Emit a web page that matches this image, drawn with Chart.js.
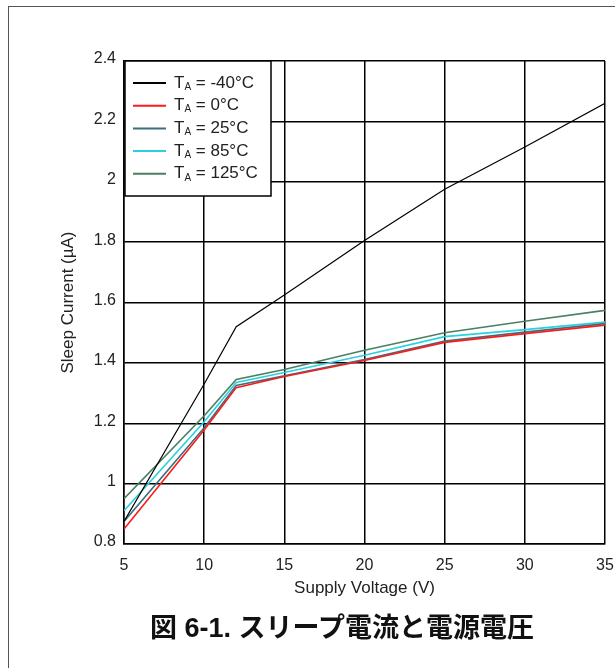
<!DOCTYPE html>
<html>
<head>
<meta charset="utf-8">
<script src="https://cdn.jsdelivr.net/npm/chart.js@4.4.1/dist/chart.umd.min.js"></script>
<style>
    html, body { margin: 0; padding: 0; background: #fff; overflow: hidden; }
    #wrap { position: relative; width: 615px; height: 668px; overflow: hidden; }
    #frame { position: absolute; left: 8px; top: 6px; width: 700px; height: 720px; border: 1px solid #555; }
    #myChart { position: absolute; left: 0; top: 0; }
    #caption {
        position: absolute; left: 8px; width: 668px; top: 610px;
        text-align: center; font: bold 27px "Liberation Sans", "Noto Sans CJK JP", sans-serif;
        line-height: 36px; color: #111;
    }
</style>
</head>
<body>
<div id="wrap">
    <div id="frame"></div>
    <canvas id="myChart" width="615" height="668"></canvas>
    <div id="caption">図 6-1. スリープ電流と電源電圧</div>
</div>
<script>
const voltages = [5, 10, 12, 15, 20, 25, 30, 35];
const temps = ['-40', '0', '25', '85', '125'];
const currentM40 = [0.875, 1.33, 1.52, 1.625, 1.805, 1.975, 2.115, 2.26];
const current0 = [0.85, 1.178, 1.318, 1.355, 1.408, 1.468, 1.497, 1.525];
const current25 = [0.875, 1.185, 1.325, 1.357, 1.411, 1.472, 1.502, 1.53];
const current85 = [0.91, 1.205, 1.335, 1.368, 1.425, 1.487, 1.51, 1.535];
const current125 = [0.95, 1.225, 1.345, 1.378, 1.442, 1.5, 1.538, 1.574];
const yTicks = [0.8, 1, 1.2, 1.4, 1.6, 1.8, 2, 2.2, 2.4];

const colors = ['#000000', '#ff1a1a', '#3a6f7e', '#2ccfdf', '#4a7f62'];
const series = [currentM40, current0, current25, current85, current125];

const fontFamily = '"Liberation Sans", Arial, sans-serif';
const tickFont = { family: fontFamily, size: 16 };
const titleFont = { family: fontFamily, size: 17 };

// legend drawn inside the plot, with subscript A
const insideLegend = {
    id: 'insideLegend',
    afterDatasetsDraw(chart) {
        const { ctx, chartArea } = chart;
        const x0 = chartArea.left + 1;
        const y0 = chartArea.top;
        ctx.save();
        ctx.fillStyle = '#fff';
        ctx.fillRect(x0, y0, 146, 135);
        ctx.strokeStyle = '#000';
        ctx.lineWidth = 1.5;
        ctx.strokeRect(x0, y0, 146, 135);
        ctx.textBaseline = 'middle';
        chart.data.datasets.forEach((ds, i) => {
            const y = y0 + 22 + i * 22.7;
            ctx.strokeStyle = ds.borderColor;
            ctx.lineWidth = 2;
            ctx.beginPath();
            ctx.moveTo(x0 + 8, y);
            ctx.lineTo(x0 + 41, y);
            ctx.stroke();
            ctx.fillStyle = '#222';
            let tx = x0 + 49;
            ctx.font = '17px ' + fontFamily;
            ctx.fillText('T', tx, y);
            tx += ctx.measureText('T').width;
            ctx.font = '10px ' + fontFamily;
            ctx.fillText('A', tx, y + 4);
            tx += ctx.measureText('A').width;
            ctx.font = '17px ' + fontFamily;
            ctx.fillText(' = ' + temps[i] + '°C', tx, y);
        });
        ctx.restore();
    },
};

const ctx = document.getElementById('myChart').getContext('2d');

const data = {
    datasets: series.map((vals, i) => ({
        label: 'TA = ' + temps[i] + '°C',
        data: voltages.map((v, j) => ({ x: v, y: vals[j] })),
        borderColor: colors[i],
        borderWidth: i === 0 ? 1.2 : 1.6,
        pointRadius: 0,
        tension: 0,
        fill: false,
    })),
};

const config = {
    type: 'line',
    data: data,
    options: {
        responsive: false,
        animation: false,
        layout: {
            padding: { left: 0, top: 61, right: 10, bottom: 64 },
        },
        plugins: {
            legend: { display: false },
            tooltip: { enabled: false },
        },
        scales: {
            x: {
                type: 'linear',
                min: 5,
                max: 35,
                ticks: { stepSize: 5, padding: 12, color: '#222', font: tickFont, maxRotation: 0 },
                grid: { color: '#000', lineWidth: 1.5, drawTicks: false },
                border: { color: '#000', width: 1.5 },
                title: {
                    display: true,
                    text: 'Supply Voltage (V)',
                    color: '#222',
                    font: titleFont,
                    padding: { top: 0, bottom: 5 },
                },
                afterFit: (scale) => {
                    scale.height = 60;
                    scale.paddingLeft = 0;
                    scale.paddingRight = 0;
                },
            },
            y: {
                min: 0.8,
                max: 2.4,
                afterBuildTicks: (scale) => { scale.ticks = yTicks.map((v) => ({ value: v })); },
                ticks: {
                    padding: 8,
                    labelOffset: -2,
                    color: '#222',
                    font: tickFont,
                    callback: (v) => String(+v.toFixed(1)),
                },
                grid: { color: '#000', lineWidth: 1.5, drawTicks: false },
                border: { color: '#000', width: 1.5 },
                title: {
                    display: true,
                    text: 'Sleep Current (µA)',
                    color: '#222',
                    font: titleFont,
                    padding: { top: 58, bottom: 0 },
                },
                afterFit: (scale) => {
                    scale.width = 124;
                    scale.paddingTop = 0;
                    scale.paddingBottom = 0;
                },
            },
        },
    },
    plugins: [insideLegend],
};

new Chart(ctx, config);
</script>
</body>
</html>
